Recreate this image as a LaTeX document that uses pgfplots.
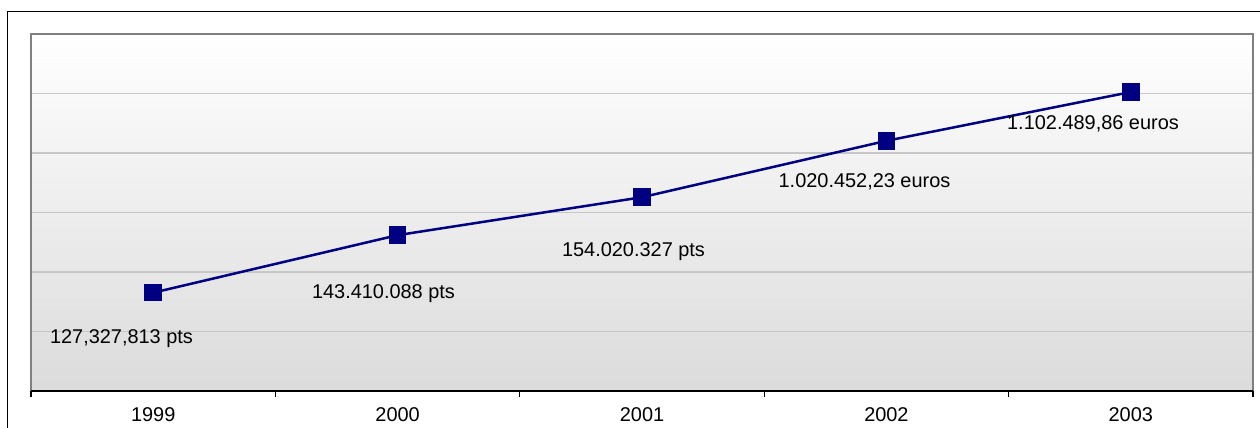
\documentclass[border=0pt]{standalone}
\usepackage{fontspec}
\setmainfont{Liberation Sans}
\usepackage{pgfplots}
\pgfplotsset{compat=1.18}
\definecolor{navy}{HTML}{000080}
\begin{document}
\begin{tikzpicture}[x=1bp,y=1bp]
\useasboundingbox (0,0) rectangle (1260,427);
\fill[white] (0,0) rectangle (1260,427);
\draw[black, line width=1.3bp] (7.5,-5) -- (7.5,415.5) -- (1265,415.5);
\begin{axis}[
  at={(31bp,36bp)}, anchor=south west,
  scale only axis, width=1222bp, height=357bp,
  xmin=-0.5, xmax=4.5, ymin=600000, ymax=1200000,
  xtick={0,1,2,3,4}, xticklabels={1999,2000,2001,2002,2003},
  xtick pos=left,
  major tick length=0pt,
  extra x ticks={-0.5,0.5,1.5,2.5,3.5,4.5},
  extra x tick labels={},
  extra x tick style={tick align=outside, major tick length=6bp, tick style={black, line width=1.3bp}, grid=none},
  ytick={700000,800000,900000,1000000,1100000}, yticklabels={},
  scaled y ticks=false,
  ymajorgrids,
  major grid style={color=black!22, line width=1.3bp},
  axis line style={draw=gray, line width=2bp},
  axis background/.style={shade, top color=white, bottom color=black!14},
  tick label style={font=\fontsize{20}{24}\selectfont},
  xticklabel style={yshift=-13bp},
  clip=false,
]
\addplot[navy, line width=2.5bp, mark=square*, mark size=7.5bp, mark options={solid, fill=navy}] coordinates {
  (0,765256) (1,861912) (2,925681) (3,1020452.23) (4,1102489.86)
};
\draw[black, line width=1.5bp] (rel axis cs:0,0) -- (rel axis cs:1,0);
\begin{scope}[every node/.style={anchor=base, font=\fontsize{20}{24}\selectfont, inner sep=0pt}]
\node at (axis cs:-0.1297,679000) {127,327,813 pts};
\node at (axis cs:0.9423,756303) {143.410.088 pts};
\node at (axis cs:1.9652,825214) {154.020.327 pts};
\node at (axis cs:2.9104,941176) {1.020.452,23 euros};
\node at (axis cs:3.8453,1038655) {1.102.489,86 euros};
\end{scope}
\end{axis}
\end{tikzpicture}
\end{document}
